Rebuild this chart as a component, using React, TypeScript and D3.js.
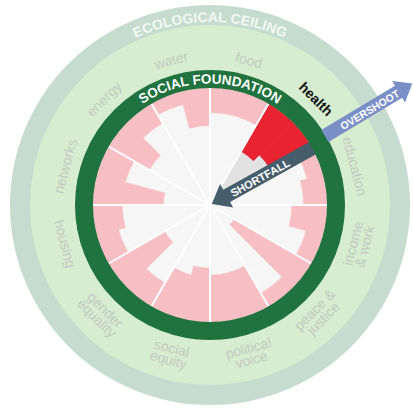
import * as d3 from "d3";

// dimensions of the social foundation, clockwise from 12 o'clock
const dimensions = [
  "food", "health", "education", "income & work", "peace & justice", "political voice",
  "social equity", "gender equality", "housing", "networks", "energy", "water",
];
const labelLines = [
  ["food"], ["health"], ["education"], ["income", "& work"], ["peace &", "justice"], ["political", "voice"],
  ["social", "equity"], ["gender", "equality"], ["housing"], ["networks"], ["energy"], ["water"],
];
// share of the foundation reached, two indicators per dimension
const achieved = [
  [0.79, 0.79], [0.53, 0.6], [0.86, 0.8], [0.7, 0.85], [0.24, 0.87], [0.6, 0.6],
  [0.54, 0.62], [0.77, 0.45], [0.81, 0.75], [0.4, 0.75], [0.6, 0.81], [0.89, 0.68],
];
const highlight = "health";
const ceilingTitle = "ECOLOGICAL CEILING";
const foundationTitle = "SOCIAL FOUNDATION";
const shortfallText = "SHORTFALL";
const overshootText = "OVERSHOOT";

const width = 413;
const height = 409;
const cx = 210;
const cy = 205;
const rOuter = 200;
const rCeiling = 180;
const rRingOut = 135;
const rRingIn = 117;
const font = "'Liberation Sans', Arial, sans-serif";

// arrow along +x, tip at `tip`, tail at `tail`
function arrowPath(tip: number, tail: number, bodyW: number, headW: number, headL: number) {
  const s = Math.sign(tail - tip);
  const h = tip + s * headL;
  const p = d3.path();
  p.moveTo(tip, 0);
  p.lineTo(h, -headW / 2);
  p.lineTo(h, -bodyW / 2);
  p.lineTo(tail, -bodyW / 2);
  p.lineTo(tail, bodyW / 2);
  p.lineTo(h, bodyW / 2);
  p.lineTo(h, headW / 2);
  p.closePath();
  return p.toString();
}

function arcText(r: number, a0: number, a1: number) {
  const p = d3.path();
  const rad = Math.PI / 180;
  p.moveTo(cx + r * Math.sin(a0 * rad), cy - r * Math.cos(a0 * rad));
  p.arc(cx, cy, r, (a0 - 90) * rad, (a1 - 90) * rad, false);
  return p.toString();
}

export default function App() {
  const angle = d3.scaleBand<string>().domain(dimensions).range([0, 2 * Math.PI]);
  const radius = d3.scaleLinear().domain([0, 1]).range([0, rRingIn]);
  const arc = d3.arc<any>();
  const deg = (a: number) => (a * 180) / Math.PI;

  const wedges = dimensions.flatMap((dim, i) => {
    const vals = achieved[i];
    const step = angle.bandwidth() / vals.length;
    return vals.map((v, j) => {
      const a0 = angle(dim)! + j * step;
      return { dim, v, a0, a1: a0 + step };
    });
  });

  const shortfallAngle = 61;
  const overshootAngle = 59;

  return (
    <svg width={width} height={height} style={{ position: "absolute", left: 0, top: 0 }} fontFamily={font}>
      <rect width={width} height={height} fill="#ffffff" />
      <circle cx={cx} cy={cy} r={rOuter} fill="#c6dccf" />
      <circle cx={cx} cy={cy} r={rCeiling} fill="#d7edcf" />
      <circle cx={cx} cy={cy} r={rRingIn} fill="#f6f6f6" />

      <g transform={`translate(${cx},${cy})`}>
        {wedges.map((w, i) => {
          const col = w.dim === highlight ? "#ea2330" : "#f7bfc3";
          return (
            <g key={i}>
              {w.dim === highlight && (
                <path
                  d={arc({ innerRadius: 0, outerRadius: radius(w.v), startAngle: w.a0, endAngle: w.a1 })!}
                  fill="#e2e2e2"
                  stroke="#e2e2e2"
                  strokeWidth={0.6}
                />
              )}
              <path
                d={arc({ innerRadius: radius(w.v), outerRadius: rRingIn, startAngle: w.a0, endAngle: w.a1 })!}
                fill={col}
                stroke={col}
                strokeWidth={0.6}
              />
            </g>
          );
        })}
        {dimensions.map((dim) => {
          const a = angle(dim)!;
          return (
            <line key={dim} x1={0} y1={0} x2={rRingIn * Math.sin(a)} y2={-rRingIn * Math.cos(a)} stroke="#ffffff" strokeWidth={2} />
          );
        })}
      </g>

      {/* shortfall arrow */}
      <g transform={`translate(${cx},${cy}) rotate(${shortfallAngle - 90})`}>
        <path d={arrowPath(2, 122, 14, 27, 17)} fill="#465d6c" />
        <text x={57} y={0.5} dominantBaseline="central" textAnchor="middle" fill="#ffffff" fontSize={11} fontWeight="bold">
          {shortfallText}
        </text>
      </g>

      <circle cx={cx} cy={cy} r={(rRingIn + rRingOut) / 2} fill="none" stroke="#20723f" strokeWidth={rRingOut - rRingIn} />

      {/* overshoot arrow */}
      <g transform={`translate(${cx},${cy}) rotate(${overshootAngle - 90})`}>
        <path d={arrowPath(236, 134, 14, 25, 16)} fill="#7b8fc7" />
        <text x={186} y={0.5} dominantBaseline="central" textAnchor="middle" fill="#ffffff" fontSize={10.5} fontWeight="bold">
          {overshootText}
        </text>
      </g>

      <defs>
        <path id="ceilingArc" d={arcText(183, -80, 80)} />
        <path id="foundationArc" d={arcText(121.5, -80, 80)} />
      </defs>
      <text fill="#f3f8f2" fontSize={14} fontWeight="bold">
        <textPath href="#ceilingArc" startOffset="50%" textAnchor="middle">{ceilingTitle}</textPath>
      </text>
      <text fill="#ffffff" fontSize={13.5} fontWeight="bold">
        <textPath href="#foundationArc" startOffset="50%" textAnchor="middle">{foundationTitle}</textPath>
      </text>

      {dimensions.map((dim, i) => {
        const a = angle(dim)! + angle.bandwidth() / 2;
        const d = deg(a);
        const lines = labelLines[i];
        const r = lines.length > 1 ? 154 : 150;
        const x = cx + r * Math.sin(a);
        const y = cy - r * Math.cos(a);
        const rot = d > 90 && d < 270 ? d - 180 : d > 180 ? d - 360 : d;
        const lh = 12;
        return (
          <text
            key={dim}
            transform={`translate(${x},${y}) rotate(${rot})`}
            textAnchor="middle"
            dominantBaseline="central"
            fontSize={14}
            fontWeight={dim === highlight ? "bold" : "normal"}
            fill={dim === highlight ? "#111111" : "#c3c9c3"}
          >
            {lines.map((t, k) => (
              <tspan key={k} x={0} y={(k - (lines.length - 1) / 2) * lh}>
                {t}
              </tspan>
            ))}
          </text>
        );
      })}
    </svg>
  );
}
